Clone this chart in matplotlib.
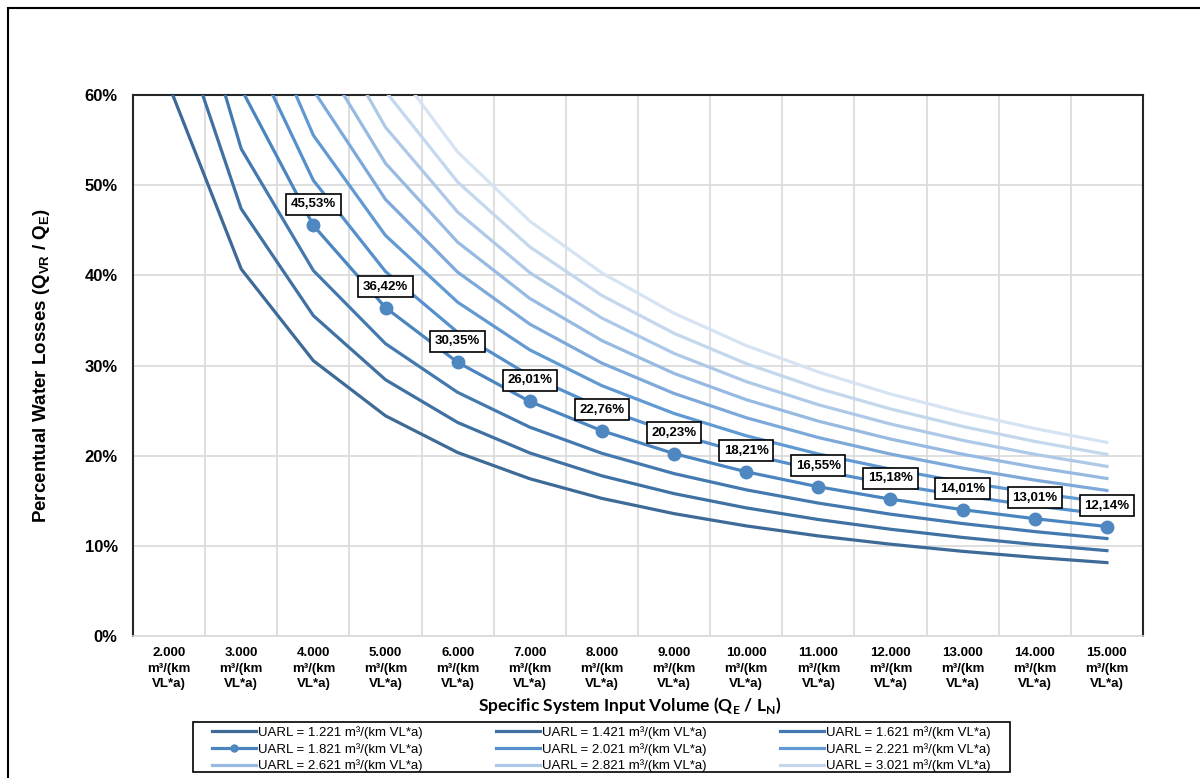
import matplotlib
matplotlib.use("Agg")
import matplotlib.pyplot as plt
from matplotlib.patches import Rectangle

# x categories (m³/(km VL*a))
volumes = [2000, 3000, 4000, 5000, 6000, 7000, 8000, 9000, 10000, 11000, 12000, 13000, 14000, 15000]
x_labels = ["2.000", "3.000", "4.000", "5.000", "6.000", "7.000", "8.000",
            "9.000", "10.000", "11.000", "12.000", "13.000", "14.000", "15.000"]

# percentual losses (%) per UARL curve
uarl_1221 = [61.05, 40.70, 30.53, 24.42, 20.35, 17.44, 15.26, 13.57, 12.21, 11.10, 10.18, 9.39, 8.72, 8.14]
uarl_1421 = [71.05, 47.37, 35.53, 28.42, 23.68, 20.30, 17.76, 15.79, 14.21, 12.92, 11.84, 10.93, 10.15, 9.47]
uarl_1621 = [81.05, 54.03, 40.53, 32.42, 27.02, 23.16, 20.26, 18.01, 16.21, 14.74, 13.51, 12.47, 11.58, 10.81]
uarl_1821 = [91.05, 60.70, 45.53, 36.42, 30.35, 26.01, 22.76, 20.23, 18.21, 16.55, 15.18, 14.01, 13.01, 12.14]
uarl_2021 = [101.05, 67.37, 50.53, 40.42, 33.68, 28.87, 25.26, 22.46, 20.21, 18.37, 16.84, 15.55, 14.44, 13.47]
uarl_2221 = [111.05, 74.03, 55.53, 44.42, 37.02, 31.73, 27.76, 24.68, 22.21, 20.19, 18.51, 17.08, 15.86, 14.81]
uarl_2421 = [121.05, 80.70, 60.53, 48.42, 40.35, 34.59, 30.26, 26.90, 24.21, 22.01, 20.18, 18.62, 17.29, 16.14]
uarl_2621 = [131.05, 87.37, 65.53, 52.42, 43.68, 37.44, 32.76, 29.12, 26.21, 23.83, 21.84, 20.16, 18.72, 17.47]
uarl_2821 = [141.05, 94.03, 70.53, 56.42, 47.02, 40.30, 35.26, 31.34, 28.21, 25.65, 23.51, 21.70, 20.15, 18.81]
uarl_3021 = [151.05, 100.70, 75.53, 60.42, 50.35, 43.16, 37.76, 33.57, 30.21, 27.46, 25.18, 23.24, 21.58, 20.14]
uarl_3221 = [161.05, 107.37, 80.53, 64.42, 53.68, 46.01, 40.26, 35.79, 32.21, 29.28, 26.84, 24.78, 23.01, 21.47]

series = [
    ("UARL = 1.221 m³/(km VL*a)", uarl_1221, "#3D6A96"),
    ("UARL = 1.421 m³/(km VL*a)", uarl_1421, "#3F71A2"),
    ("UARL = 1.621 m³/(km VL*a)", uarl_1621, "#4479B0"),
    ("UARL = 1.821 m³/(km VL*a)", uarl_1821, "#4A85C0"),
    ("UARL = 2.021 m³/(km VL*a)", uarl_2021, "#5590CC"),
    ("UARL = 2.221 m³/(km VL*a)", uarl_2221, "#619AD3"),
    (None, uarl_2421, "#7DA9DA"),
    ("UARL = 2.621 m³/(km VL*a)", uarl_2621, "#96BAE2"),
    ("UARL = 2.821 m³/(km VL*a)", uarl_2821, "#AEC9E8"),
    ("UARL = 3.021 m³/(km VL*a)", uarl_3021, "#C3D7ED"),
    (None, uarl_3221, "#D6E3F2"),
]
labelled = uarl_1821
first_label = 2  # 4.000 is the first point inside the axis

plt.rcParams['font.family'] = ['Liberation Sans', 'DejaVu Sans']

fig = plt.figure(figsize=(12, 7.78), dpi=100)
ax = fig.add_axes([133/1200, 1-636/778, (1143-133)/1200, (636-95)/778])

xs = list(range(len(volumes)))
handles = []
for name, vals, col in series:
    y = [v/100 for v in vals]
    if vals is labelled:
        ln, = ax.plot(xs, y, color=col, lw=2.3, marker='o', markersize=9,
                      markerfacecolor='#4F87C0', markeredgecolor='#4F87C0',
                      markevery=list(range(first_label, len(xs))), zorder=4)
        for i in range(first_label, len(xs)):
            ax.annotate(f"{vals[i]:.2f}%".replace('.', ','), (xs[i], y[i]),
                        xytext=(0, 21), textcoords='offset pixels',
                        ha='center', va='center', fontsize=9.5, fontweight='bold',
                        bbox=dict(boxstyle='square,pad=0.35', fc='white', ec='black', lw=1.2),
                        zorder=6)
    else:
        ln, = ax.plot(xs, y, color=col, lw=2.3, zorder=3)
    if name:
        handles.append((ln, name))

ax.set_xlim(-0.5, len(xs) - 0.5)
ax.set_ylim(0, 0.6)
ax.set_yticks([0, 0.1, 0.2, 0.3, 0.4, 0.5, 0.6])
ax.set_yticklabels(["0%", "10%", "20%", "30%", "40%", "50%", "60%"],
                   fontsize=12, fontweight='bold')
ax.set_xticks(xs)
ax.set_xticklabels([f"{l}\nm³/(km\nVL*a)" for l in x_labels], fontsize=9.5,
                   fontweight='bold', linespacing=1.4)
ax.set_xticks([i - 0.5 for i in range(len(xs) + 1)], minor=True)
ax.tick_params(axis='both', which='both', length=0)
ax.tick_params(axis='y', pad=11)
ax.tick_params(axis='x', pad=8)
ax.grid(axis='y', which='major', color='#D9D9D9', lw=1.2)
ax.grid(axis='x', which='minor', color='#D9D9D9', lw=1.2)
ax.set_axisbelow(True)
for s in ['left', 'top', 'right']:
    ax.spines[s].set_color('#262626')
    ax.spines[s].set_linewidth(1.5)
ax.spines['bottom'].set_color('#D9D9D9')
ax.spines['bottom'].set_linewidth(1.2)

fig.text(42/1200, 1-366/778,
         r"Percentual Water Losses (Q$_{\mathregular{VR}}$ / Q$_{\mathregular{E}}$)",
         rotation=90, ha='center', va='center', fontsize=13.5, fontweight='bold')
fig.text(630/1200, 1-706/778,
         r"Specific System Input Volume (Q$_{\mathregular{E}}$ / L$_{\mathregular{N}}$)",
         ha='center', va='center', fontsize=12.5, fontweight='bold',
         family=['Lato', 'DejaVu Sans'])

# excel fills the legend row by row, matplotlib column by column
order = [0, 3, 6, 1, 4, 7, 2, 5, 8]
leg = fig.legend([handles[i][0] for i in order], [handles[i][1] for i in order], ncol=3,
                 loc='upper left', mode='expand',
                 bbox_to_anchor=(208/1200, 1-722/778, (995-208)/1200, 0),
                 prop={'size': 9.5},
                 frameon=False,
                 handlelength=3.3, handletextpad=0.2, borderpad=0.3,
                 labelspacing=0.3, columnspacing=1.0, borderaxespad=0)
for h in leg.legend_handles:
    h.set_markersize(5)

# legend frame drawn separately so the entries can sit a bit further inside
fig.patches.append(Rectangle((193/1200, 1-772/778), (1010-193)/1200, 50/778,
                             transform=fig.transFigure, fill=False, ec='black', lw=1.2))
fig.patches.append(Rectangle((8/1200, -0.1), 1.2, 1-8/778 + 0.1, transform=fig.transFigure,
                             fill=False, ec='black', lw=1.5))

fig.savefig("out.png", dpi=100)
